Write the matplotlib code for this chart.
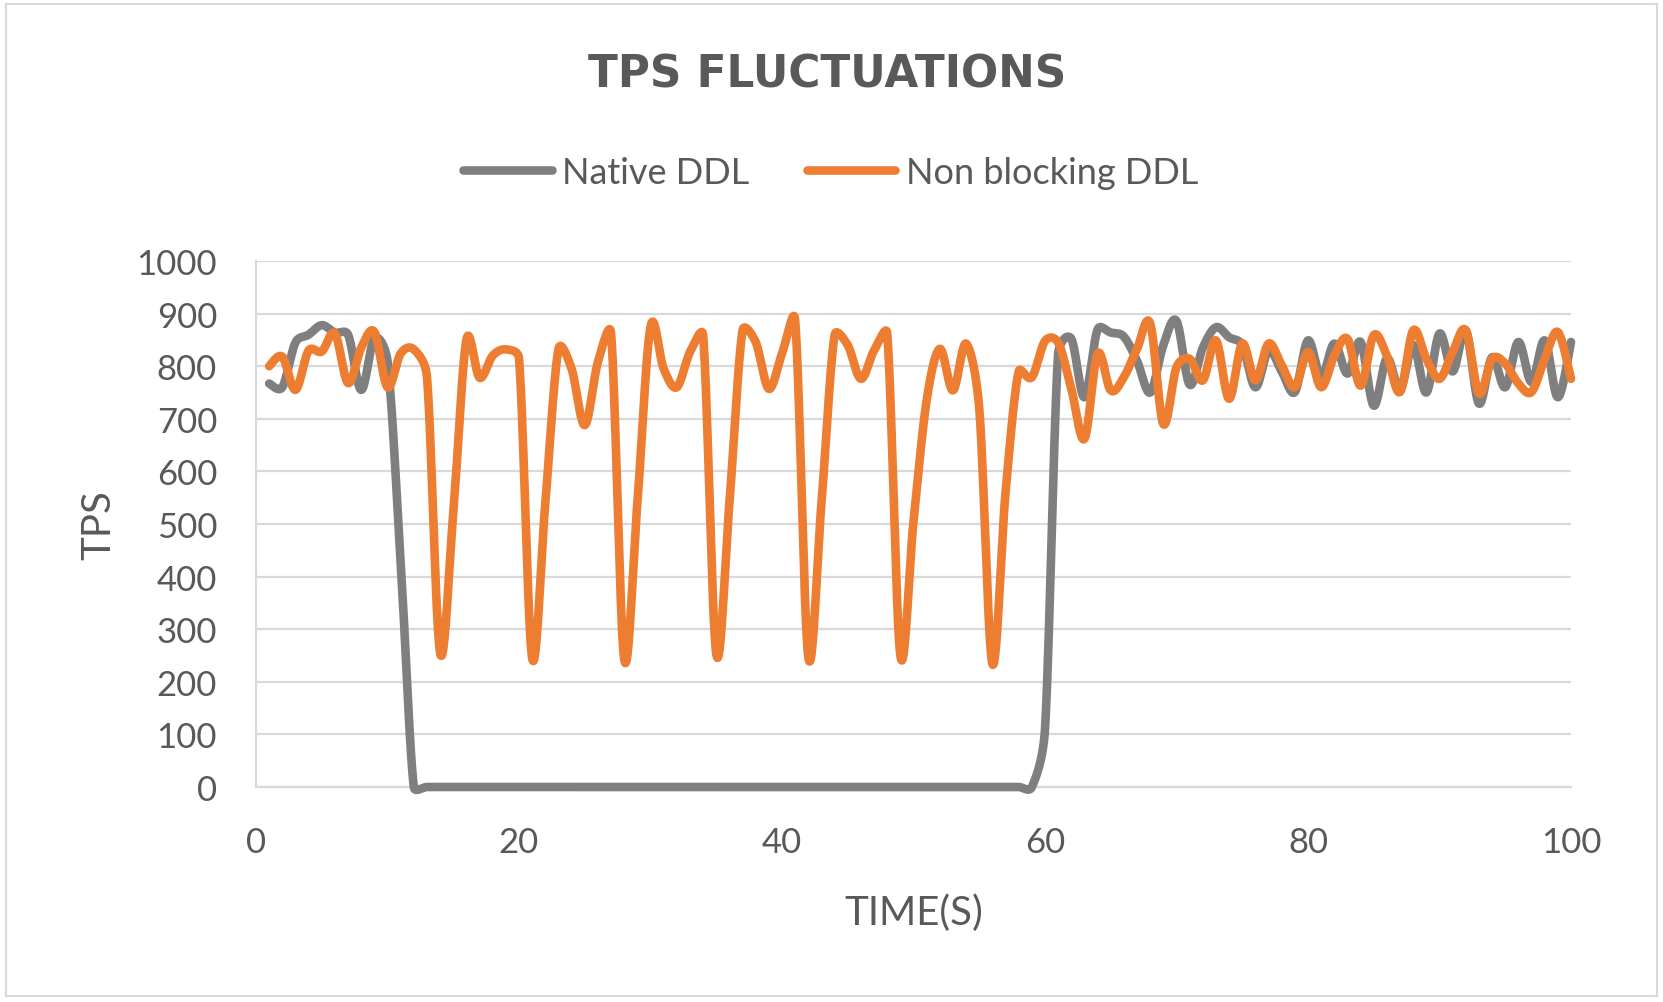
'''TPS fluctuations: native vs non blocking DDL'''

import numpy as np
import matplotlib.pyplot as plt
from matplotlib.patches import Rectangle

plt.rcParams['font.family'] = ['Lato', 'DejaVu Sans']

# Data (one value per second)
seconds = list(range(1, 101))

native_ddl = [
    767, 760, 845, 860, 878, 864, 860, 755, 853, 810,
    430, 0, 0, 0, 0, 0, 0, 0, 0, 0,
    0, 0, 0, 0, 0, 0, 0, 0, 0, 0,
    0, 0, 0, 0, 0, 0, 0, 0, 0, 0,
    0, 0, 0, 0, 0, 0, 0, 0, 0, 0,
    0, 0, 0, 0, 0, 0, 0, 0, 0, 110,
    824, 852, 741, 870, 864, 856, 810, 750, 840, 886,
    765, 835, 874, 855, 840, 760, 830, 790, 751, 849,
    779, 843, 786, 846, 725, 815, 755, 840, 750, 862,
    790, 868, 729, 817, 760, 846, 770, 849, 741, 846,
]

non_blocking_ddl = [
    800, 818, 755, 830, 828, 862, 768, 835, 865, 760,
    824, 832, 780, 255, 520, 850, 778, 820, 832, 815,
    245, 540, 832, 795, 688, 808, 862, 243, 540, 875,
    795, 760, 827, 859, 253, 540, 868, 846, 757, 824,
    887, 247, 540, 859, 840, 776, 830, 862, 250, 505,
    735, 833, 754, 843, 720, 234, 560, 790, 779, 848,
    845, 757, 662, 824, 754, 779, 833, 881, 690, 798,
    814, 773, 849, 738, 843, 773, 843, 802, 760, 827,
    760, 820, 852, 763, 859, 820, 751, 868, 814, 776,
    827, 868, 748, 814, 805, 767, 751, 814, 865, 776,
]

y_ticks = [0, 100, 200, 300, 400, 500, 600, 700, 800, 900, 1000]
x_ticks = [0, 20, 40, 60, 80, 100]

TEXT = '#595959'
GRID = '#d9d9d9'
GRAY = '#7f7f7f'
ORANGE = '#ed7d31'


def smooth(xs, ys, sx=13.15, sy=0.5257, steps=24):
    '''Bezier smoothing in screen space, control arms capped at half a segment'''
    pts = np.column_stack([np.asarray(xs, float) * sx, np.asarray(ys, float) * sy])
    pts = np.vstack([pts[0], pts, pts[-1]])
    t = np.linspace(0, 1, steps, endpoint=False)[:, None]
    curve = []
    for i in range(1, len(pts) - 2):
        p0, p1, p2, p3 = pts[i - 1], pts[i], pts[i + 1], pts[i + 2]
        half = np.linalg.norm(p2 - p1) / 2
        v1 = (p2 - p0) / 6
        v2 = (p3 - p1) / 6
        if np.linalg.norm(v1) > half:
            v1 = v1 * half / np.linalg.norm(v1)
        if np.linalg.norm(v2) > half:
            v2 = v2 * half / np.linalg.norm(v2)
        c1 = p1 + v1
        c2 = p2 - v2
        seg = ((1 - t) ** 3) * p1 + 3 * ((1 - t) ** 2) * t * c1 \
            + 3 * (1 - t) * (t ** 2) * c2 + (t ** 3) * p2
        curve.append(seg)
    curve.append(pts[-2][None, :])
    curve = np.vstack(curve)
    return curve[:, 0] / sx, curve[:, 1] / sy


fig = plt.figure(figsize=(16.63, 10.03), dpi=100)
fig.patches.append(Rectangle((0.0036, 0.006), 0.9928, 0.989, transform=fig.transFigure,
                             fill=False, edgecolor=GRID, linewidth=1.5))

ax = fig.add_axes([256 / 1663, 1 - 788 / 1003, 1315 / 1663, 526 / 1003])

gx, gy = smooth(seconds, native_ddl)
ox, oy = smooth(seconds, non_blocking_ddl)
ax.plot(gx, gy, color=GRAY, linewidth=6.2, solid_capstyle='round',
        solid_joinstyle='round', label='Native DDL', zorder=3, clip_on=False)
ax.plot(ox, oy, color=ORANGE, linewidth=6.2, solid_capstyle='round',
        solid_joinstyle='round', label='Non blocking DDL', zorder=4, clip_on=False)

ax.set_xlim(0, 100)
ax.set_ylim(0, 1000)
ax.set_xticks(x_ticks)
ax.set_yticks(y_ticks)
ax.grid(axis='y', color=GRID, linewidth=1.6)
ax.set_axisbelow(True)
for side in ['top', 'right']:
    ax.spines[side].set_visible(False)
for side in ['left', 'bottom']:
    ax.spines[side].set_color(GRID)
    ax.spines[side].set_linewidth(1.6)
ax.tick_params(length=0, labelsize=25, labelcolor=TEXT)
ax.tick_params(axis='y', pad=28)
ax.tick_params(axis='x', pad=28)

ax.set_xlabel('TIME(S)', fontsize=29, color=TEXT, va='baseline')
ax.xaxis.set_label_coords(0.5, -0.2605)
ax.set_ylabel('TPS', fontsize=29, color=TEXT, va='baseline', rotation_mode='anchor')
ax.yaxis.set_label_coords(-0.111, 0.5)

fig.text(0.4975, 1 - 87 / 1003, 'TPS FLUCTUATIONS', fontsize=31.5, fontweight='bold',
         family='DejaVu Sans', color=TEXT, ha='center', va='baseline')

leg = fig.legend(loc='center', bbox_to_anchor=(0.4995, 1 - 173 / 1003), ncol=2,
                 frameon=False, fontsize=26, handlelength=2.45, handletextpad=0.28,
                 columnspacing=1.6, labelcolor=TEXT)

fig.savefig('out.png', dpi=100)
